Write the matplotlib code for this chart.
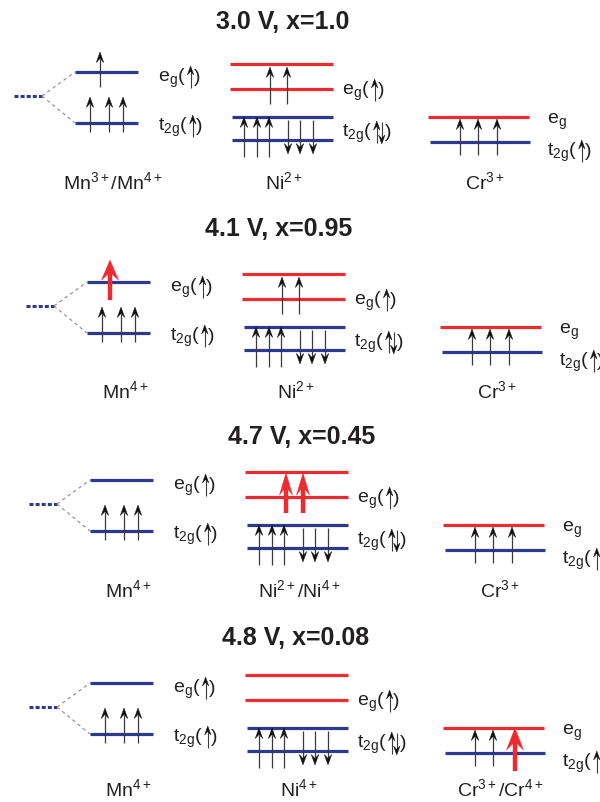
import matplotlib
matplotlib.use("Agg")
import matplotlib.pyplot as plt
from matplotlib.patches import Polygon

plt.rcParams['font.family'] = ['Liberation Sans', 'DejaVu Sans']
plt.rcParams['mathtext.fontset'] = 'custom'
plt.rcParams['mathtext.rm'] = 'Liberation Sans'
plt.rcParams['mathtext.it'] = 'Liberation Sans:italic'
plt.rcParams['mathtext.bf'] = 'Liberation Sans:bold'

# ---------------- data ----------------
titles = ["3.0 V, x=1.0", "4.1 V, x=0.95", "4.7 V, x=0.45", "4.8 V, x=0.08"]
mn_ions = [r"Mn$^{3+}$/Mn$^{4+}$", r"Mn$^{4+}$", r"Mn$^{4+}$", r"Mn$^{4+}$"]
ni_ions = [r"Ni$^{2+}$", r"Ni$^{2+}$", r"Ni$^{2+}$/Ni$^{4+}$", r"Ni$^{4+}$"]
cr_ions = [r"Cr$^{3+}$", r"Cr$^{3+}$", r"Cr$^{3+}$", r"Cr$^{3+}$/Cr$^{4+}$"]
mn_t2g_up = [3, 3, 3, 3]
mn_eg_up = [1, 0, 0, 0]
mn_eg_added = [0, 1, 0, 0]      # highlighted (red) electrons
ni_t2g_up = [3, 3, 3, 3]
ni_t2g_down = [3, 3, 3, 3]
ni_eg_up = [2, 2, 0, 0]
ni_eg_added = [0, 0, 2, 0]
cr_t2g_up = [3, 3, 3, 2]
cr_t2g_added = [0, 0, 0, 1]
eg_text = r"e$_\mathregular{g}$"
t2g_text = r"t$_\mathregular{2g}$"
mn_spins = {"eg": "u", "t2g": "u"}
ni_spins = {"eg": "u", "t2g": "ud"}
cr_spins = {"eg": "", "t2g": "u"}

# ---------------- layout (pixels, panel-1 frame) ----------------
PANEL_DX = [0, 12, 15, 15]
PANEL_DY = [0, 210, 408, 611]
TITLE_XY = [(283, 29), (279, 236), (302, 444), (296, 645)]
ION_BASE = [189, 398, 597, 796]

BLUE = '#2b3990'
RED = '#ec2a2f'
TXT = '#231f20'
LEVEL_LW = 2.3
FS = 14

MN_DASH = (14, 42, 96)
MN_X = (75, 138)
MN_EG_Y, MN_T2G_Y = 72, 123
MN_EG_SLOTS = [100]
MN_EG_ARROW = (87, 52)
MN_T2G_SLOTS = [90, 109, 123]
MN_T2G_ARROW = (132, 97)
MN_LABEL_X = 158
MN_LABEL_BASE = (82, 131)
MN_ION_X = 113

NI_X = (230, 333)
NI_RED_Y = [64, 89]
NI_BLUE_Y = [117, 140]
NI_EG_SLOTS = [270, 287]
NI_EG_ARROW = (104, 67)
NI_UP_SLOTS = [244, 257, 269]
NI_UP_ARROW = (157, 117)
NI_DN_SLOTS = [288, 300, 313]
NI_DN_ARROW = (120, 154)
NI_LABEL_X = 342
NI_LABEL_BASE = (95, 137)
NI_ION_X = 284

CR_X = (428, 529)
CR_RED_Y, CR_BLUE_Y = 117, 142
CR_SLOTS = [460, 478, 497]
CR_ARROW = (155, 119)
CR_RED_ARROW = (160, 117)
CR_LABEL_X = 547
CR_LABEL_BASE = (124, 156)
CR_ION_X = 485

fig = plt.figure(figsize=(6.0, 8.02), dpi=100)
ax = fig.add_axes([0, 0, 1, 1])
ax.set_xlim(0, 600)
ax.set_ylim(802, 0)
ax.axis('off')
renderer = fig.canvas.get_renderer()
inv = ax.transData.inverted()


def arrow(x, y_tail, y_tip, red=False, head_w=None, head_l=None,
          lw=None, hw_def=7.5, hl_def=10.5):
    s = 1 if y_tail > y_tip else -1
    if red:
        hw = head_w or 16
        hl = head_l or 20
        lw, shaft_c, head_c = 3.2, RED, RED
    else:
        hw, hl = hw_def, hl_def
        lw = lw or 0.9
        shaft_c, head_c = '#3a3a3a', '#101010'
    notch = 0.62 * hl
    ax.plot([x, x], [y_tail, y_tip + s * notch], color=shaft_c, lw=lw,
            solid_capstyle='butt', zorder=3)
    ax.add_patch(Polygon([(x, y_tip), (x - hw / 2, y_tip + s * hl),
                          (x, y_tip + s * notch), (x + hw / 2, y_tip + s * hl)],
                         closed=True, facecolor=head_c, edgecolor=head_c,
                         lw=0.3, zorder=4))


def hline(x0, x1, y, color):
    ax.plot([x0, x1], [y, y], color=color, lw=LEVEL_LW, solid_capstyle='butt', zorder=2)


def text(x, y, s, size=FS, ha='left', **kw):
    return ax.text(x, y, s, fontsize=size, color=TXT, ha=ha, va='baseline',
                   zorder=5, **kw)


def right_edge(t):
    bb = t.get_window_extent(renderer=renderer)
    return inv.transform((bb.x1, bb.y0))[0]


def level_label(x, base, name, spins):
    if not spins:
        text(x, base, name)
        return
    t = text(x, base, name + "(")
    xe = right_edge(t) + 5.0
    for j, sp in enumerate(spins):
        xa = xe + 5 * j
        if sp == 'u':
            arrow(xa, base + 6, base - 16, hw_def=6.5, hl_def=9, lw=0.8)
        else:
            arrow(xa, base - 15, base + 7, hw_def=6.5, hl_def=9, lw=0.8)
    text(xe + 5 * (len(spins) - 1) + 3.0, base, ")")


for i in range(len(titles)):
    dx, dy = PANEL_DX[i], PANEL_DY[i]
    tx, ty = TITLE_XY[i]
    ax.text(tx, ty, titles[i], fontsize=18, fontweight='bold', color=TXT,
            ha='center', va='baseline')

    # ---- Mn ----
    ax.plot([MN_DASH[0] + dx, MN_DASH[1] + dx], [MN_DASH[2] + dy] * 2, color=BLUE,
            lw=2.2, linestyle=(0, (1.3, 0.7)), solid_capstyle='butt')
    for yl in (MN_EG_Y, MN_T2G_Y):
        ax.plot([MN_DASH[1] + dx, MN_X[0] + dx], [MN_DASH[2] + dy, yl + dy],
                color='#8a8a8a', lw=0.8, linestyle=(0, (3, 3)))
        hline(MN_X[0] + dx, MN_X[1] + dx, yl + dy, BLUE)
    for k in range(mn_t2g_up[i]):
        arrow(MN_T2G_SLOTS[k] + dx, MN_T2G_ARROW[0] + dy, MN_T2G_ARROW[1] + dy)
    for k in range(mn_eg_up[i]):
        arrow(MN_EG_SLOTS[k] + dx, MN_EG_ARROW[0] + dy, MN_EG_ARROW[1] + dy)
    for k in range(mn_eg_added[i]):
        arrow(MN_EG_SLOTS[k] + dx - 2, MN_EG_ARROW[0] + dy + 3, MN_EG_ARROW[1] + dy - 2,
              red=True, head_w=17, head_l=20)
    level_label(MN_LABEL_X + dx, MN_LABEL_BASE[0] + dy, eg_text, mn_spins["eg"])
    level_label(MN_LABEL_X + dx, MN_LABEL_BASE[1] + dy, t2g_text, mn_spins["t2g"])
    text(MN_ION_X + dx, ION_BASE[i], mn_ions[i], ha='center')

    # ---- Ni ----
    for yl in NI_RED_Y:
        hline(NI_X[0] + dx, NI_X[1] + dx, yl + dy, RED)
    for yl in NI_BLUE_Y:
        hline(NI_X[0] + dx + 2, NI_X[1] + dx, yl + dy, BLUE)
    for k in range(ni_eg_up[i]):
        arrow(NI_EG_SLOTS[k] + dx, NI_EG_ARROW[0] + dy, NI_EG_ARROW[1] + dy)
    for k in range(ni_eg_added[i]):
        arrow(NI_EG_SLOTS[k] + dx + 1, NI_EG_ARROW[0] + dy + 1, NI_EG_ARROW[1] + dy - 2,
              red=True, head_w=13, head_l=22)
    for k in range(ni_t2g_up[i]):
        arrow(NI_UP_SLOTS[k] + dx, NI_UP_ARROW[0] + dy, NI_UP_ARROW[1] + dy)
    for k in range(ni_t2g_down[i]):
        arrow(NI_DN_SLOTS[k] + dx, NI_DN_ARROW[0] + dy, NI_DN_ARROW[1] + dy)
    level_label(NI_LABEL_X + dx, NI_LABEL_BASE[0] + dy, eg_text, ni_spins["eg"])
    level_label(NI_LABEL_X + dx, NI_LABEL_BASE[1] + dy, t2g_text, ni_spins["t2g"])
    text(NI_ION_X + dx, ION_BASE[i], ni_ions[i], ha='center')

    # ---- Cr ----
    hline(CR_X[0] + dx, CR_X[1] + dx, CR_RED_Y + dy, RED)
    hline(CR_X[0] + dx + 2, CR_X[1] + dx + 1, CR_BLUE_Y + dy, BLUE)
    for k in range(cr_t2g_up[i]):
        arrow(CR_SLOTS[k] + dx, CR_ARROW[0] + dy, CR_ARROW[1] + dy)
    for k in range(cr_t2g_added[i]):
        slot = CR_SLOTS[cr_t2g_up[i] + k]
        arrow(slot + dx + 3, CR_RED_ARROW[0] + dy, CR_RED_ARROW[1] + dy,
              red=True, head_w=17, head_l=22)
    level_label(CR_LABEL_X + dx, CR_LABEL_BASE[0] + dy, eg_text, cr_spins["eg"])
    level_label(CR_LABEL_X + dx, CR_LABEL_BASE[1] + dy, t2g_text, cr_spins["t2g"])
    text(CR_ION_X + dx, ION_BASE[i], cr_ions[i], ha='center')

fig.savefig('out.png', dpi=100)
